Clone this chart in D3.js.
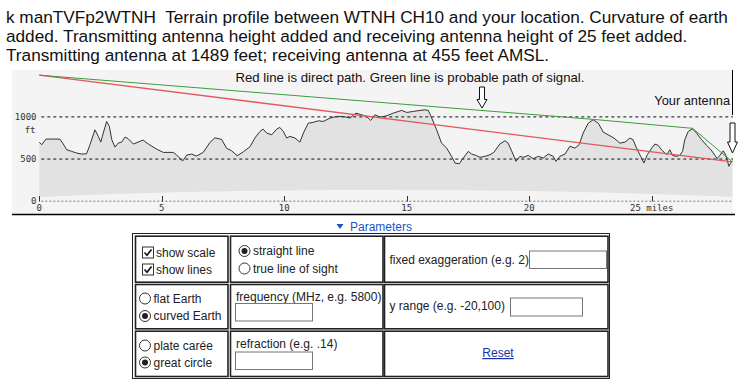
<!DOCTYPE html>
<html>
<head>
<meta charset="utf-8">
<script src="https://cdn.jsdelivr.net/npm/d3@7"></script>
<style>
  body { margin: 0; background: #fff; }
  svg { display: block; }
  text { font-family: "Liberation Sans", Arial, sans-serif; white-space: pre; }
  .mono { font-family: "DejaVu Sans Mono", "Liberation Mono", monospace; }
</style>
</head>
<body>
<div id="chart"></div>
<script>
var svgWidth = 745;
var svgHeight = 388;

// terrain profile (miles from transmitter, feet on the plotted scale)
var terrainMiles = [0.00, 0.10, 0.27, 0.57, 0.84, 0.98, 1.12, 1.32, 1.53, 1.73, 1.93, 2.07, 2.27, 2.41, 2.51, 2.61, 2.75, 2.86, 2.96, 3.09,
  3.22, 3.36, 3.50, 3.63, 3.84, 4.24, 4.45, 4.79, 5.06, 5.47, 5.61, 5.85, 6.02, 6.22, 6.42, 6.69, 6.97, 7.17, 7.44, 7.65,
  7.85, 8.08, 8.33, 8.60, 8.80, 9.01, 9.14, 9.28, 9.49, 9.69, 9.82, 9.96, 10.10, 10.23, 10.44, 10.64, 10.78, 10.98, 11.18, 11.39,
  11.59, 11.87, 12.14, 12.41, 12.68, 12.93, 13.16, 13.36, 13.53, 13.70, 13.91, 14.18, 14.45, 14.79, 15.00, 15.27, 15.54, 15.74, 15.88, 16.02,
  16.22, 16.42, 16.63, 16.83, 16.97, 17.14, 17.31, 17.51, 17.65, 17.82, 17.99, 18.19, 18.40, 18.56, 18.80, 19.01, 19.14, 19.28, 19.46, 19.62,
  19.76, 19.96, 20.16, 20.37, 20.57, 20.78, 20.98, 21.09, 21.25, 21.46, 21.66, 21.87, 22.04, 22.20, 22.41, 22.61, 22.82, 23.02, 23.22, 23.46,
  23.70, 23.91, 24.11, 24.24, 24.38, 24.55, 24.68, 24.82, 25.00, 25.13, 25.27, 25.40, 25.61, 25.74, 25.85, 25.99, 26.15, 26.26, 26.35, 26.49,
  26.67, 26.83, 27.04, 27.24, 27.42, 27.58, 27.67, 27.78, 27.92, 28.03, 28.15, 28.22, 28.29];
var terrainFeet = [695, 664, 731, 731, 731, 672, 605, 585, 565, 553, 557, 664, 841, 763, 695, 802, 940, 881, 723, 636,
  683, 695, 755, 735, 672, 719, 672, 612, 573, 573, 541, 470, 541, 553, 530, 573, 692, 746, 727, 621,
  592, 533, 580, 640, 743, 822, 849, 802, 782, 849, 869, 822, 743, 763, 743, 695, 802, 920, 929, 948,
  940, 980, 1000, 1000, 980, 1039, 1019, 1000, 952, 1019, 992, 1007, 1039, 1071, 1047, 1059, 1071, 1078, 1071, 980,
  841, 683, 624, 526, 447, 438, 506, 585, 553, 538, 514, 526, 545, 575, 672, 711, 683, 592, 467, 526,
  514, 538, 498, 526, 506, 553, 526, 467, 526, 553, 645, 624, 664, 802, 920, 960, 920, 814, 782, 743,
  683, 695, 743, 723, 624, 526, 447, 545, 624, 672, 656, 604, 545, 604, 538, 526, 538, 585, 723, 822,
  853, 802, 723, 656, 604, 538, 498, 538, 592, 538, 408, 447, 474];

// curved sea level (bottom of the terrain fill)
var earthMiles = [0, 3, 6, 9, 12, 14, 17, 20, 23, 26, 28.29];
var earthFeet = [44, 80, 103, 118, 126, 128, 125, 114, 96, 70, 48];

// red = direct path, green = probable path of signal
var directMiles = [0, 28.29];
var directFeet = [1489, 460];
var signalMiles = [0, 22.61, 26.67, 28.29];
var signalFeet = [1489, 965, 858, 462];

var xTicks = [0, 5, 10, 15, 20, 25];
var xTickLabels = ["0", "5", "10", "15", "20", "25 miles"];
var yTicks = [0, 500, 1000];
var yTickLabels = ["0", "500", "1000"];

var titleLines = [
  "k manTVFp2WTNH  Terrain profile between WTNH CH10 and your location. Curvature of earth",
  "added. Transmitting antenna height added and receiving antenna height of 25 feet added.",
  "Transmitting antenna at 1489 feet; receiving antenna at 455 feet AMSL."
];

var svg = d3.select("#chart")
  .append("svg")
    .attr("width", svgWidth)
    .attr("height", svgHeight);

svg.append("rect").attr("width", svgWidth).attr("height", svgHeight).attr("fill", "#fff");

// title
svg.append("g").selectAll("text")
  .data(titleLines)
  .enter()
  .append("text")
    .attr("x", 6)
    .attr("y", (d, i) => 23 + i * 19)
    .attr("font-size", "17.2px")
    .attr("fill", "#111")
    .text(d => d);

// chart area
var x = d3.scaleLinear().domain([0, 28.29]).range([39.3, 732.3]);
var y = d3.scaleLinear().domain([0, 1000]).range([200.7, 116.4]);

var plot = svg.append("g");
plot.append("rect")
  .attr("x", 12).attr("y", 70)
  .attr("width", 721).attr("height", 144)
  .attr("fill", "#f4f4f4");

// terrain fill between earth curve and terrain
var terrainPts = terrainMiles.map((m, i) => [x(m), y(terrainFeet[i])]);
var earthPts = earthMiles.map((m, i) => [x(m), y(earthFeet[i])]).reverse();
plot.append("path")
  .attr("d", d3.line()(terrainPts.concat(earthPts)) + "Z")
  .attr("fill", "#e2e2e2");

// dashed grid lines
plot.selectAll(".grid")
  .data(yTicks)
  .enter()
  .append("line")
    .attr("x1", x(0) + 2)
    .attr("x2", 733)
    .attr("y1", d => y(d) + 0.5)
    .attr("y2", d => y(d) + 0.5)
    .attr("stroke", d => d === 0 ? "#777" : "#111")
    .attr("stroke-dasharray", d => d === 0 ? "2,2" : "3,3");

// y labels
plot.selectAll(".ylab")
  .data(yTicks)
  .enter()
  .append("text")
    .attr("class", "mono")
    .attr("x", 36.5)
    .attr("y", d => y(d) + 3.5)
    .attr("text-anchor", "end")
    .attr("font-size", "9px")
    .attr("fill", "#333")
    .text((d, i) => yTickLabels[i]);
plot.append("text")
  .attr("class", "mono")
  .attr("x", 35.5).attr("y", 133)
  .attr("text-anchor", "end")
  .attr("font-size", "9px")
  .attr("fill", "#333")
  .text("ft");

// x ticks and labels
var xt = plot.selectAll(".xt")
  .data(xTicks)
  .enter()
  .append("g");
xt.append("line")
  .attr("x1", d => Math.round(x(d)) + 0.5)
  .attr("x2", d => Math.round(x(d)) + 0.5)
  .attr("y1", 196).attr("y2", 201.5)
  .attr("stroke", "#333");
xt.append("text")
  .attr("class", "mono")
  .attr("x", d => x(d))
  .attr("y", 210.5)
  .attr("text-anchor", "middle")
  .attr("font-size", "9px")
  .attr("fill", "#333")
  .text((d, i) => xTickLabels[i]);

// terrain line
plot.append("path")
  .attr("d", d3.line()(terrainPts))
  .attr("fill", "none")
  .attr("stroke", "#333")
  .attr("stroke-width", 1);

// direct path and signal path
var pathLine = d3.line().x(d => x(d[0])).y(d => y(d[1]));
plot.append("path")
  .attr("d", pathLine(directMiles.map((m, i) => [m, directFeet[i]])))
  .attr("fill", "none")
  .attr("stroke", "#e05a5a")
  .attr("stroke-width", 1.4);
plot.append("path")
  .attr("d", pathLine(signalMiles.map((m, i) => [m, signalFeet[i]])))
  .attr("fill", "none")
  .attr("stroke", "#3c9c3c")
  .attr("stroke-width", 1);

// frame lines
plot.append("line").attr("x1", 12).attr("x2", 735).attr("y1", 214.5).attr("y2", 214.5).attr("stroke", "#000").attr("stroke-width", 1.5);
plot.append("line").attr("x1", 732.5).attr("x2", 732.5).attr("y1", 70).attr("y2", 115).attr("stroke", "#000");

// notes
plot.append("text")
  .attr("x", 410).attr("y", 82)
  .attr("text-anchor", "middle")
  .attr("font-size", "13.2px")
  .attr("fill", "#111")
  .text("Red line is direct path. Green line is probable path of signal.");
plot.append("text")
  .attr("x", 730).attr("y", 105)
  .attr("text-anchor", "end")
  .attr("font-size", "12.8px")
  .attr("fill", "#111")
  .text("Your antenna");

// hollow down arrows
function arrow(cx, top, bottom, headStart) {
  var p = d3.path();
  p.moveTo(cx - 2.5, top);
  p.lineTo(cx + 2.5, top);
  p.lineTo(cx + 2.5, headStart);
  p.lineTo(cx + 5, headStart);
  p.lineTo(cx, bottom);
  p.lineTo(cx - 5, headStart);
  p.lineTo(cx - 2.5, headStart);
  p.closePath();
  plot.append("path")
    .attr("d", p.toString())
    .attr("fill", "#fff")
    .attr("stroke", "#111")
    .attr("stroke-width", 1);
}
arrow(482, 87, 108, 99.5);
arrow(732.5, 123, 153, 142);

// parameters toggle
var params = svg.append("g");
params.append("path")
  .attr("d", "M336.5,224L343.5,224L340,229Z")
  .attr("fill", "#1a56c4");
params.append("text")
  .attr("x", 350).attr("y", 230.5)
  .attr("font-size", "12px")
  .attr("fill", "#1a56c4")
  .text("Parameters");

// form table
params.append("rect")
  .attr("x", 132.5).attr("y", 233.5).attr("width", 477).attr("height", 145)
  .attr("fill", "none").attr("stroke", "#222");

var colX = [135, 230, 384];
var colW = [92.5, 152.5, 223.5];
var rowY = [235.7, 284, 330.7];
var rowH = [46, 44.3, 45.3];
rowY.forEach(function(ry, r) {
  colX.forEach(function(cx, c) {
    params.append("rect")
      .attr("x", cx + 0.5).attr("y", ry + 0.5)
      .attr("width", colW[c]).attr("height", rowH[r])
      .attr("fill", "none").attr("stroke", "#222").attr("stroke-width", 1.6);
  });
});

function label(tx, ty, s, color) {
  return params.append("text")
    .attr("x", tx).attr("y", ty)
    .attr("font-size", "12px")
    .attr("fill", color || "#222")
    .text(s);
}
function checkbox(bx, by, s) {
  params.append("rect")
    .attr("x", bx + 0.5).attr("y", by + 0.5).attr("width", 11).attr("height", 11)
    .attr("fill", "#fff").attr("stroke", "#333");
  params.append("path")
    .attr("d", `M${bx + 2.5},${by + 6} L${bx + 5},${by + 8.7} L${bx + 9.5},${by + 3}`)
    .attr("fill", "none").attr("stroke", "#111").attr("stroke-width", 1.6);
  label(bx + 14, by + 10, s);
}
function radio(cx, cy, on, s) {
  params.append("circle")
    .attr("cx", cx).attr("cy", cy).attr("r", 5.5)
    .attr("fill", "#fff").attr("stroke", "#333");
  if (on) {
    params.append("circle").attr("cx", cx).attr("cy", cy).attr("r", 3).attr("fill", "#222");
  }
  label(cx + 8.5, cy + 4, s);
}
function inputBox(bx, by, w, h) {
  params.append("rect")
    .attr("x", bx + 0.5).attr("y", by + 0.5).attr("width", w).attr("height", h)
    .attr("fill", "#fff").attr("stroke", "#767676");
}

checkbox(142, 246.5, "show scale");
checkbox(142, 263.5, "show lines");
radio(244.5, 251, true, "straight line");
radio(244.5, 268.5, false, "true line of sight");
label(389.5, 263.5, "fixed exaggeration (e.g. 2)");
inputBox(529, 250.5, 77, 17.5);

radio(145, 298.5, false, "flat Earth");
radio(145, 316, true, "curved Earth");
label(236, 301, "frequency (MHz, e.g. 5800)");
inputBox(235, 303, 77, 17.5);
label(389.5, 310, "y range (e.g. -20,100)");
inputBox(510, 297.5, 72, 18);

radio(145, 345.5, false, "plate carée");
radio(145, 362.5, true, "great circle");
label(236, 348, "refraction (e.g. .14)");
inputBox(235, 351.5, 77, 17.5);
label(498, 357, "Reset", "#1a2fa8")
  .attr("text-anchor", "middle")
  .attr("text-decoration", "underline");
</script>
</body>
</html>
